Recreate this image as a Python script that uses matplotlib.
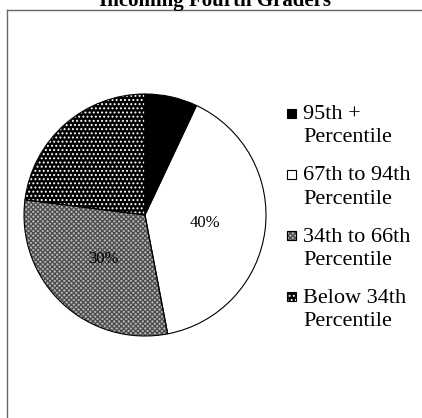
import matplotlib.pyplot as plt
from matplotlib.patches import Rectangle
from matplotlib.lines import Line2D

title = "Incoming Fourth Graders"
categories = ["95th +\nPercentile", "67th to 94th\nPercentile",
              "34th to 66th\nPercentile", "Below 34th\nPercentile"]
shares = [7, 40, 30, 23]
shown_labels = ["", "40%", "30%", ""]
face_colors = ["black", "white", "#b4b4b4", "black"]
hatches = [None, None, "xxxxxxx", "...."]
hatch_colors = ["black", "black", "#4a4a4a", "white"]

plt.rcParams['font.family'] = ['Liberation Serif', 'DejaVu Serif']
plt.rcParams['hatch.linewidth'] = 0.9

W, H = 422, 418
fig = plt.figure(figsize=(W / 100, H / 100), dpi=100)

# pie centre and radius in pixels
cx, cy, r = 145, 215, 121
ax = fig.add_axes([(cx - r) / W, 1 - (cy + r) / H, 2 * r / W, 2 * r / H])
wedges, texts, autotexts = ax.pie(shares, startangle=90, counterclock=False,
                                  autopct='%1.0f%%', pctdistance=0.5,
                                  textprops=dict(fontsize=12))
for w, fc, h, hc in zip(wedges, face_colors, hatches, hatch_colors):
    w.set_facecolor(fc)
    w.set_hatch(h)
    w.set_edgecolor(hc)
    w.set_linewidth(0)
for t, s in zip(autotexts, shown_labels):
    t.set_text(s)

# outlines on top
ax.pie(shares, startangle=90, counterclock=False,
       wedgeprops=dict(fill=False, edgecolor='black', linewidth=0.8))
ax.set_xlim(-1, 1)
ax.set_ylim(-1, 1)
ax.axis('off')

# legend drawn by hand so the box sits on the first line
for i, (lab, fc, h, hc) in enumerate(zip(categories, face_colors, hatches, hatch_colors)):
    y = 113 + i * 61.3
    box = Rectangle((287 / W, 1 - (y + 4.5) / H), 9 / W, 9 / H,
                    transform=fig.transFigure, facecolor=fc, hatch=h,
                    edgecolor=hc if h else 'black', linewidth=0.8)
    fig.add_artist(box)
    if h:
        fig.add_artist(Rectangle((287 / W, 1 - (y + 4.5) / H), 9 / W, 9 / H,
                                 transform=fig.transFigure, fill=False,
                                 edgecolor='black', linewidth=0.8))
    fig.text(303 / W, 1 - (y - 8) / H, lab, va='top', ha='left',
             fontsize=16, linespacing=1.3)

# frame lines (only top and left are visible)
fig.add_artist(Line2D([7 / W, 1], [1 - 9.5 / H, 1 - 9.5 / H], color='#666666', lw=1))
fig.add_artist(Line2D([7 / W, 7 / W], [0, 1 - 9.5 / H], color='#666666', lw=1))

fig.text(215 / W, 1 - 6 / H, title, ha='center', va='baseline',
         fontsize=15, fontweight='bold')

fig.savefig("out.png", dpi=100)
